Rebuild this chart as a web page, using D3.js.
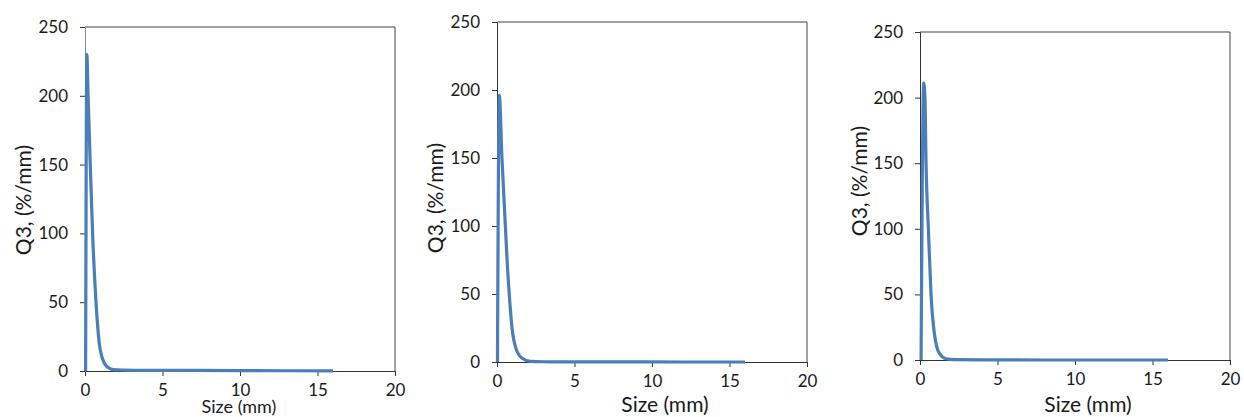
<!DOCTYPE html>
<html>
<head>
<meta charset="utf-8">
<script src="https://cdn.jsdelivr.net/npm/d3@7"></script>
<style>
  body { margin: 0; background: #fff; }
  svg text { font-family: Lato, "Open Sans", sans-serif; fill: #1a1a1a; }
</style>
</head>
<body>
<svg id="chart" width="1244" height="417"></svg>
<script>
// Q3 size distributions, three samples
var sizeA = [0.04, 0.12, 0.2, 0.34, 0.49, 0.71, 0.92, 1.1, 1.28, 1.5, 1.82, 2.5, 4, 7, 10, 13, 16];
var q3A   = [0, 230, 200, 150, 100, 50, 20, 10, 5, 2.5, 1, 0.7, 0.5, 0.4, 0.3, 0.2, 0.1];

var sizeB = [0.03, 0.15, 0.32, 0.54, 0.65, 0.79, 0.97, 1.22, 1.6, 2.15, 3, 5, 8, 12, 16];
var q3B   = [0, 196, 150, 100, 75, 50, 25, 10, 3, 0.5, 0.2, 0.1, 0.1, 0, 0];

var sizeC = [0.07, 0.24, 0.32, 0.39, 0.54, 0.71, 0.93, 1.25, 1.68, 2.2, 4, 8, 12, 16];
var q3C   = [0, 211, 200, 150, 100, 50, 20, 5, 1, 0.3, 0.1, 0, 0, 0];

var xTicks = [0, 5, 10, 15, 20];
var yTicks = [0, 50, 100, 150, 200, 250];
var yTitle = "Q3, (%/mm)";
var xTitle = "Size (mm)";

// plot box of each panel, in page pixels
var panels = [
  {x: sizeA, y: q3A, left: 85,  right: 395,  top: 27,  bottom: 371, ytx: 24,  yty: 200, xtx: 239,  xty: 413, xtSize: 18, leftAxis: "#8a8a8a"},
  {x: sizeB, y: q3B, left: 497, right: 807,  top: 22,  bottom: 362, ytx: 436, yty: 198, xtx: 665,  xty: 412, xtSize: 21, leftAxis: "#333"},
  {x: sizeC, y: q3C, left: 920, right: 1230, top: 32,  bottom: 360, ytx: 860, yty: 181, xtx: 1088, xty: 412, xtSize: 21, leftAxis: "#333"}
];

var svg = d3.select("#chart");

panels.forEach(function(p){
  var x = d3.scaleLinear().domain([0, 20]).range([p.left, p.right]);
  var y = d3.scaleLinear().domain([0, 250]).range([p.bottom, p.top]);

  var g = svg.append("g");

  // frame (top + right)
  g.append("path")
    .attr("d", "M" + p.left + "," + p.top + "H" + p.right + "V" + p.bottom)
    .attr("fill", "none").attr("stroke", "#444").attr("stroke-width", 1);

  var ax = g.append("g").attr("transform", "translate(0," + p.bottom + ")")
    .call(d3.axisBottom(x).tickValues(xTicks).tickSize(5).tickPadding(8));
  var ay = g.append("g").attr("transform", "translate(" + p.left + ",0)")
    .call(d3.axisLeft(y).tickValues(yTicks).tickSize(5).tickPadding(12));

  [ax, ay].forEach(function(a){
    a.selectAll("text").style("font-size", "17px").attr("fill", "#1a1a1a");
    a.selectAll("line").attr("stroke", "#333");
  });
  ax.select(".domain").attr("stroke", "#333");
  ay.select(".domain").attr("stroke", p.leftAxis);

  var pts = p.x.map(function(d, i){ return [d, p.y[i]]; });
  var line = d3.line()
    .x(function(d){ return x(d[0]); })
    .y(function(d){ return y(d[1]); })
    .curve(d3.curveMonotoneX);

  g.append("path").datum(pts)
    .attr("d", line)
    .attr("fill", "none")
    .attr("stroke", "#4a7ebb")
    .attr("stroke-width", 3.2)
    .attr("stroke-linejoin", "round");

  g.append("text")
    .attr("transform", "translate(" + p.ytx + "," + p.yty + ") rotate(-90)")
    .attr("text-anchor", "middle")
    .attr("dy", "0.35em")
    .style("font-size", "21px")
    .text(yTitle);

  g.append("text")
    .attr("x", p.xtx).attr("y", p.xty)
    .attr("text-anchor", "middle")
    .style("font-size", p.xtSize + "px")
    .text(xTitle);
});
</script>
</body>
</html>
